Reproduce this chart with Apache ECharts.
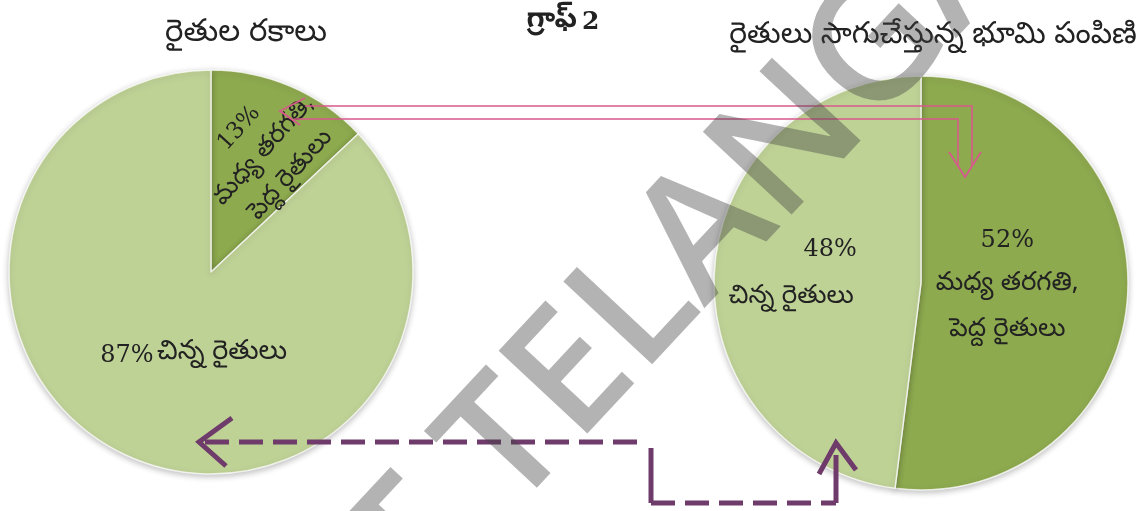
<!DOCTYPE html>
<html>
<head>
<meta charset="utf-8">
<script src="https://cdn.jsdelivr.net/npm/echarts@6/dist/echarts.min.js"></script>
<style>
  html, body { margin: 0; padding: 0; background: #ffffff; }
  #chart { width: 1142px; height: 511px; }
</style>
</head>
<body>
<div id="chart"></div>
<script>
// Farmer types (left pie) and the share of cultivated land they hold (right pie)
const categories = ['మధ్య తరగతి, పెద్ద రైతులు', 'చిన్న రైతులు'];
const categoryLines = [['మధ్య తరగతి,', 'పెద్ద రైతులు'], ['చిన్న రైతులు']];
const farmerShare = [13, 87];
const landShare = [52, 48];
const pieTitles = ['రైతుల రకాలు', 'రైతులు సాగుచేస్తున్న భూమి పంపిణి'];
const graphTitle = ['గ్రాఫ్', '2'];
const watermark = 'SCERT TELANGANA';

const DARK = '#8eaa4f';
const LIGHT = '#bfd296';
const TXT = '#222222';
const TELUGU = '"Noto Sans Telugu", "Noto Sans", "DejaVu Sans", sans-serif';
const SERIF = '"DejaVu Serif", "Liberation Serif", serif';

const chart = echarts.init(document.getElementById('chart'), null, { renderer: 'canvas' });

const pieStyle = {
  borderColor: 'rgba(255,255,255,0.75)',
  borderWidth: 1.5,
  shadowBlur: 6,
  shadowOffsetY: 2,
  shadowColor: 'rgba(0,0,0,0.25)'
};

const pink = '#d75a8c';
const purple = '#6e3b6b';

// watermark placement: start point of the text line and its angle
const wmAngle = 47 * Math.PI / 180;
const wmX = 104, wmY = 881;

chart.setOption({
  backgroundColor: '#ffffff',
  animation: false,
  title: [
    { text: pieTitles[0], left: 241, top: 16, textAlign: 'center',
      textStyle: { fontFamily: TELUGU, fontSize: 31, fontWeight: 'normal', color: TXT } },
    { text: '{t|' + graphTitle[0] + '} {n|' + graphTitle[1] + '}', left: 558, top: 3, textAlign: 'center',
      textStyle: {
        rich: {
          t: { fontFamily: TELUGU, fontSize: 29, fontWeight: 'bold', color: TXT },
          n: { fontFamily: SERIF, fontSize: 25, fontWeight: 'bold', color: TXT }
        }
      } },
    { text: pieTitles[1], left: 928, top: 19, textAlign: 'center',
      textStyle: { fontFamily: TELUGU, fontSize: 30, fontWeight: 'normal', color: TXT } }
  ],
  series: [
    {
      type: 'pie',
      center: [211, 272],
      radius: 202,
      startAngle: 90,
      clockwise: true,
      silent: true,
      labelLine: { show: false },
      itemStyle: pieStyle,
      data: [
        { value: farmerShare[0], name: categories[0], itemStyle: { color: DARK },
          label: {
            show: true, position: 'inside', rotate: 48, offset: [27, -6],
            formatter: p => '{v|' + p.value + '%}\n{t|' + categoryLines[0][0] + '}\n{t|' + categoryLines[0][1] + '}',
            rich: {
              v: { fontFamily: SERIF, fontSize: 23, color: TXT, lineHeight: 36 },
              t: { fontFamily: TELUGU, fontSize: 25, color: TXT, lineHeight: 36 }
            }
          } },
        { value: farmerShare[1], name: categories[1], itemStyle: { color: LIGHT },
          label: {
            show: true, position: 'inside', offset: [24, -12],
            formatter: p => '{v|' + p.value + '%} {t|' + p.name + '}',
            rich: {
              v: { fontFamily: SERIF, fontSize: 24, color: TXT },
              t: { fontFamily: TELUGU, fontSize: 27, color: TXT }
            }
          } }
      ]
    },
    {
      type: 'pie',
      center: [921, 283],
      radius: 207,
      startAngle: 90,
      clockwise: true,
      silent: true,
      labelLine: { show: false },
      itemStyle: pieStyle,
      data: [
        { value: landShare[0], name: categories[0], itemStyle: { color: DARK },
          label: {
            show: true, position: 'inside', offset: [-20, -3],
            formatter: p => '{v|' + p.value + '%}\n{t|' + categoryLines[0][0] + '}\n{t|' + categoryLines[0][1] + '}',
            rich: {
              v: { fontFamily: SERIF, fontSize: 24, color: TXT, lineHeight: 46 },
              t: { fontFamily: TELUGU, fontSize: 26, color: TXT, lineHeight: 46 }
            }
          } },
        { value: landShare[1], name: categories[1], itemStyle: { color: LIGHT },
          label: {
            show: true, position: 'inside', offset: [-22, -2],
            formatter: p => '{v|' + p.value + '%}\n{t|' + p.name + '}',
            rich: {
              v: { fontFamily: SERIF, fontSize: 24, color: TXT, lineHeight: 50, align: 'left', padding: [0, 0, 0, 75] },
              t: { fontFamily: TELUGU, fontSize: 26, color: TXT, lineHeight: 50, align: 'left' }
            }
          } }
      ]
    }
  ],
  graphic: [
    // pink double-line arrow linking the 13% slice to the 52% slice
    { type: 'polyline', z: 20, shape: { points: [[305, 106], [972, 106], [972, 166]] },
      style: { stroke: pink, lineWidth: 1.6, fill: null } },
    { type: 'polyline', z: 20, shape: { points: [[294, 119], [958, 119], [958, 166]] },
      style: { stroke: pink, lineWidth: 1.6, fill: null } },
    { type: 'polyline', z: 20, shape: { points: [[305, 98], [280, 111], [300, 125]] },
      style: { stroke: pink, lineWidth: 1.8, fill: null } },
    { type: 'polyline', z: 20, shape: { points: [[949, 152], [965, 177], [981, 152]] },
      style: { stroke: pink, lineWidth: 1.8, fill: null } },
    // purple dashed arrow linking the 48% slice back to the 87% slice
    { type: 'polyline', z: 20, shape: { points: [[205, 442], [642, 442]] },
      style: { stroke: purple, lineWidth: 5, lineDash: [24, 10], fill: null } },
    { type: 'polyline', z: 20, shape: { points: [[651, 448], [651, 503]] },
      style: { stroke: purple, lineWidth: 5, fill: null } },
    { type: 'polyline', z: 20, shape: { points: [[651, 503], [836, 503]] },
      style: { stroke: purple, lineWidth: 5, lineDash: [24, 10], fill: null } },
    { type: 'polyline', z: 20, shape: { points: [[836, 503], [836, 455]] },
      style: { stroke: purple, lineWidth: 5, fill: null } },
    { type: 'polyline', z: 20, shape: { points: [[232, 418], [199, 442], [226, 466]] },
      style: { stroke: purple, lineWidth: 5, fill: null } },
    { type: 'polyline', z: 20, shape: { points: [[819, 474], [836, 443], [856, 470]] },
      style: { stroke: purple, lineWidth: 5, fill: null } },
    // diagonal watermark
    { type: 'text', z: 30, x: wmX, y: wmY, rotation: wmAngle,
      style: { text: watermark, font: '600 170px "Open Sans", "DejaVu Sans", sans-serif',
        fill: 'rgba(64,64,64,0.4)', textAlign: 'left', textVerticalAlign: 'middle' } }
  ]
});
</script>
</body>
</html>
